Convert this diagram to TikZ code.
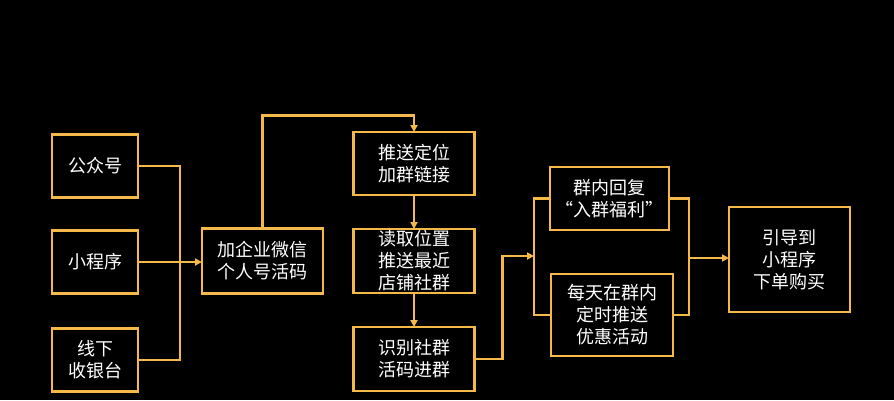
\documentclass[tikz,border=0pt]{standalone}
\usepackage{fontspec}
\newfontfamily\cjk{Noto Sans CJK SC}
\usetikzlibrary{positioning, arrows.meta}
\definecolor{FGgold}{HTML}{F5B94A}

\begin{document}
\begin{tikzpicture}[
  x=1pt, y=-1pt,
  node distance=33pt and 63pt,
  font=\cjk\fontsize{18}{22}\selectfont,
  box/.style={draw=FGgold, line width=2.5pt, align=center, text=white,
              minimum width=86pt, minimum height=63pt, inner sep=2pt,
              outer sep=0pt},
  widebox/.style={box, minimum width=121pt, minimum height=64pt},
  link/.style={draw=FGgold, line width=2.5pt},
  arr/.style={link, -{Triangle[length=7pt, width=7pt]}},
]
\fill[black] (0,0) rectangle (894,400);
\useasboundingbox (0,0) rectangle (894,400);

% sources
\node[box] (gzh) at (95,166) {公众号};
\node[box, below=33pt of gzh] (xcx) {小程序};
\node[box, below=35pt of xcx] (syt) {线下\\收银台};

% wecom and group chain
\node[widebox, minimum height=65pt] (qw) at (262.5,261) {加企业微信\\个人号活码};
\node[widebox, minimum height=63pt] (tsdw) at (414,163.5) {推送定位\\加群链接};
\node[widebox, inner sep=0pt, below=34pt of tsdw] (dqwz) {读取位置\\推送最近\\店铺社群};
\node[widebox, below=34pt of dqwz] (sbsq) {识别社群\\活码进群};

% in-group actions
\node[box, minimum width=119pt] (qnhf) at (609.5,198.5) {群内回复\\“入群福利”};
\node[box, minimum width=122pt, minimum height=82pt] (mtts) at (612,315) {每天在群内\\定时推送\\优惠活动};
\node[box, minimum width=121pt, minimum height=105pt] (ydxcx) at (789.5,259.5) {引导到\\小程序\\下单购买};

\coordinate (lj) at (180,262);
\coordinate (mj) at (534,256);
\coordinate (rj) at (689,258);

\draw[link] (gzh.east) -| (lj);
\draw[link] (syt.east) -| (lj);
\draw[arr] (xcx.east) -- (xcx.east -| qw.west);
\draw[arr] (qw.north) -- ++(0,-113) -| (tsdw.north);
\draw[arr] (tsdw.south) -- (tsdw.south |- dqwz.north);
\draw[arr] (dqwz.south) -- (dqwz.south |- sbsq.north);
\draw[arr] (sbsq.east) -- ++(28,0) |- (mj);
\draw[link] (qnhf.west) -| (mj);
\draw[link] (mtts.west) -| (mj);
\draw[link] (qnhf.east) -| (rj);
\draw[link] (mtts.east) -| (rj);
\draw[arr] (rj) -- (ydxcx.west |- rj);
\end{tikzpicture}
\end{document}
